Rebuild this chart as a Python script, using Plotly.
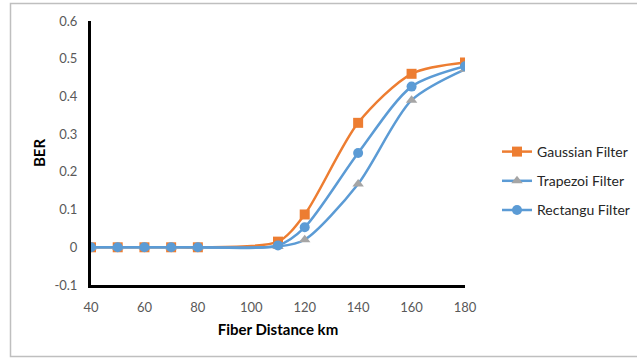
import plotly.graph_objects as go

distance = [40, 50, 60, 70, 80, 110, 120, 140, 160, 180]
gaussian = [0, 0, 0, 0, 0, 0.015, 0.087, 0.33, 0.46, 0.49]
trapezoi = [0, 0, 0, 0, 0, 0.002, 0.02, 0.168, 0.39, 0.472]
rectangu = [0, 0, 0, 0, 0, 0.005, 0.053, 0.25, 0.426, 0.48]

W, H = 637, 358
L, R, T, B = 91, 172, 21, 73
pw, ph = W - L - R, H - T - B

def px(x):
    return (x - L) / pw

def py(y):
    return 1 - (y - T) / ph

fig = go.Figure()
fig.add_trace(go.Scatter(x=distance, y=gaussian, name="Gaussian Filter", mode="lines+markers",
                         legendgroup="g1",
                         line=dict(color="#ED7D31", width=2.5, shape="spline", smoothing=0.8),
                         marker=dict(symbol="square", size=10, color="#ED7D31")))
fig.add_trace(go.Scatter(x=distance, y=trapezoi, name="Trapezoi Filter", mode="lines+markers",
                         legendgroup="g2",
                         line=dict(color="#5B9BD5", width=2.5, shape="spline", smoothing=0.8),
                         marker=dict(symbol="triangle-up", size=10, color="#A5A5A5")))
fig.add_trace(go.Scatter(x=distance, y=rectangu, name="Rectangu Filter", mode="lines+markers",
                         legendgroup="g3",
                         line=dict(color="#5B9BD5", width=2.5, shape="spline", smoothing=0.8),
                         marker=dict(symbol="circle", size=10, color="#5B9BD5")))

font_family = "Lato, Open Sans, sans-serif"
fig.update_layout(
    width=W, height=H,
    margin=dict(l=L, r=R, t=T, b=B, pad=0, autoexpand=False),
    paper_bgcolor="white", plot_bgcolor="white",
    font=dict(family=font_family, size=13, color="#595959"),
    showlegend=True,
    legend=dict(xref="container", yref="container",
                x=497 / W, y=1 - 136 / H, xanchor="left", yanchor="top",
                font=dict(size=14, color="#262626"), tracegroupgap=8,
                traceorder="grouped", itemsizing="trace", bgcolor="rgba(0,0,0,0)"),
    xaxis=dict(range=[40, 180], tickvals=[40, 60, 80, 100, 120, 140, 160, 180],
               showgrid=False, zeroline=False, showline=True, linecolor="black", linewidth=3,
               ticks="", ticklabelstandoff=8, automargin=False,
               title=dict(text="<b>Fiber Distance km</b>", font=dict(size=15, color="black"), standoff=11)),
    yaxis=dict(range=[-0.1, 0.6], tickvals=[-0.1, 0, 0.1, 0.2, 0.3, 0.4, 0.5, 0.6],
               ticktext=["-0.1", "0", "0.1", "0.2", "0.3", "0.4", "0.5", "0.6"],
               showgrid=False, zeroline=False, showline=True, linecolor="black", linewidth=3,
               ticks="", ticklabelstandoff=8, automargin=False,
               title=dict(text="<b>BER</b>", font=dict(size=15, color="black"), standoff=6)),
    shapes=[dict(type="rect", xref="paper", yref="paper",
                 x0=px(10.5), x1=px(645), y0=py(356.5), y1=py(3.5),
                 line=dict(color="#BFBFBF", width=1.5), layer="below")],
)
fig.write_html("out.html")
